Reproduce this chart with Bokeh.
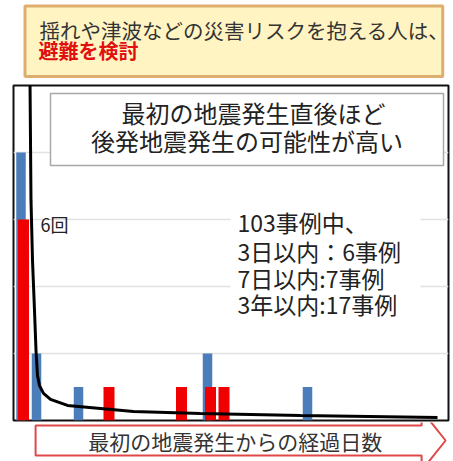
from bokeh.plotting import figure
from bokeh.layouts import column
from bokeh.models import Range1d, Label, BoxAnnotation, FixedTicker
from bokeh.embed import file_html
from bokeh.resources import INLINE

FONT = "Noto Sans CJK JP"

# ---- data (x = bin position along elapsed-days axis, y = number of cases) ----
blue_pos = [0.75, 2.3, 6.5, 19.4, 29.4]
blue_count = [8, 2, 1, 2, 1]
red_pos = [1.0, 9.55, 16.8, 19.7, 21.05]
red_count = [6, 1, 1, 1, 1]
curve_x = [1.65, 1.75, 1.9, 2.1, 2.25, 2.4, 2.6, 3.0, 3.7, 5.4, 8.7, 12.0, 18.7, 28.7, 42.4]
curve_y = [10.15, 6.57, 4.78, 3.28, 2.09, 1.34, 1.04, 0.81, 0.63, 0.45, 0.36, 0.27, 0.21, 0.15, 0.09]
grid_ticks = [2, 4, 6, 8]

title_line1 = "揺れや津波などの災害リスクを抱える人は、"
title_line2 = "避難を検討"
note_lines = ["最初の地震発生直後ほど", "後発地震発生の可能性が高い"]
stat_lines = ["103事例中、", "3日以内：6事例", "7日以内:7事例", "3年以内:17事例"]
count_label = "6回"
xaxis_label = "最初の地震発生からの経過日数"

W = 453

# ---- top banner ----
top = figure(width=W, height=83, x_range=Range1d(0, W), y_range=Range1d(83, 0),
             output_backend="svg", toolbar_location=None,
             x_axis_location=None, y_axis_location=None, min_border=0)
top.grid.visible = False
top.outline_line_color = None
top.quad(left=12, right=447, top=5.5, bottom=76, fill_color="#FFF4C2",
         line_color="#DDAE6E", line_width=3)
top.add_layout(Label(x=27, y=29, text=title_line1, text_font=FONT, text_font_size="20.5px",
                     text_color="#333333", text_baseline="middle"))
top.add_layout(Label(x=26, y=50, text=title_line2, text_font=FONT, text_font_size="20px",
                     text_font_style="bold", text_color="#E01010", text_baseline="middle"))

# ---- main chart ----
p = figure(width=W, height=339, x_range=Range1d(0, 43.5), y_range=Range1d(0, 10),
           output_backend="svg", toolbar_location=None,
           x_axis_location=None, y_axis_location=None,
           min_border_left=13, min_border_right=5, min_border_top=2, min_border_bottom=2)
p.xgrid.visible = False
p.ygrid.ticker = FixedTicker(ticks=grid_ticks)
p.ygrid.grid_line_color = "#E2E2E2"
p.ygrid.grid_line_width = 1.5
p.outline_line_color = "#111111"
p.outline_line_width = 2

p.vbar(x=blue_pos, top=blue_count, width=0.95, fill_color="#4A7DBA", line_color=None)
p.vbar(x=red_pos, top=red_count, width=1.1, fill_color="#F00000", line_color=None)
p.line(curve_x, curve_y, line_color="black", line_width=3)

p.add_layout(BoxAnnotation(left=3.7, right=43.0, top=9.76, bottom=7.61,
                           fill_color="white", fill_alpha=1.0,
                           line_color="#A8A8A8", line_alpha=1.0, line_width=1.5))
p.add_layout(BoxAnnotation(left=21.7, right=40.7, top=6.57, bottom=2.99,
                           fill_color="white", fill_alpha=1.0, line_alpha=0))

p.add_layout(Label(x=24.0, y=9.19, text=note_lines[0], text_font=FONT, text_font_size="24px",
                   text_color="#222222", text_align="center", text_baseline="middle"))
p.add_layout(Label(x=23.35, y=8.36, text=note_lines[1], text_font=FONT, text_font_size="24px",
                   text_color="#222222", text_align="center", text_baseline="middle"))

for yv, t in zip([5.94, 5.07, 4.24, 3.49], stat_lines):
    p.add_layout(Label(x=22.4, y=yv, text=t, text_font=FONT, text_font_size="23px",
                       text_color="#222222", text_baseline="middle"))

p.add_layout(Label(x=2.7, y=5.88, text=count_label, text_font=FONT, text_font_size="18px",
                   text_color="#222222", text_baseline="middle"))

# ---- bottom arrow ----
bot = figure(width=W, height=39, x_range=Range1d(0, W), y_range=Range1d(39, 0),
             output_backend="svg", toolbar_location=None,
             x_axis_location=None, y_axis_location=None, min_border=0)
bot.grid.visible = False
bot.outline_line_color = None
bot.patch([23, 425, 425, 450, 425, 425, 23], [3, 3, -12, 18, 48, 33, 33],
          fill_color="white", line_color="#E04848", line_width=2)
bot.add_layout(Label(x=231, y=18, text=xaxis_label, text_font=FONT, text_font_size="21px",
                     text_color="#333333", text_align="center", text_baseline="middle"))

layout = column(top, p, bot, spacing=0)
open("out.html", "w").write(file_html(layout, INLINE))
